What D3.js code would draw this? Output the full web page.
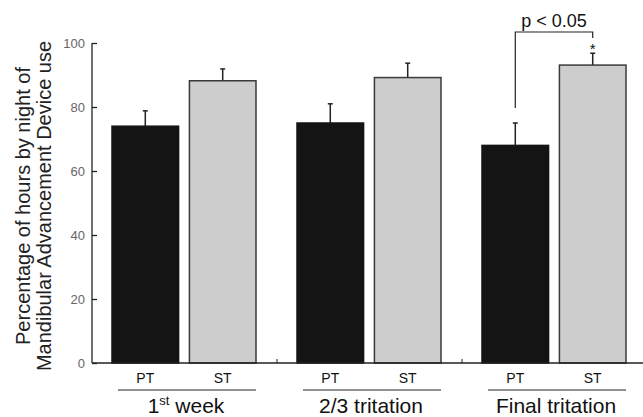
<!DOCTYPE html>
<html>
<head>
<meta charset="utf-8">
<script src="https://cdn.jsdelivr.net/npm/d3@7"></script>
<style>
  body { margin: 0; background: #fff; }
  text { font-family: "Liberation Sans", Arial, sans-serif; }
</style>
</head>
<body>
<script>
// data
var groups = ['1st week', '2/3 tritation', 'Final tritation'];
var conds = ['PT', 'ST'];
var ptMean = [74, 75, 68];
var ptErr = [4.8, 6, 7];
var stMean = [88.2, 89.2, 93.1];
var stErr = [3.7, 4.5, 3.7];
var yTicks = [0, 20, 40, 60, 80, 100];

var width = 643, height = 417;

var svg = d3.select('body').append('svg')
  .attr('width', width)
  .attr('height', height);

var xScale = d3.scaleBand().domain(groups).range([92, 647]).padding(0);
var inner = d3.scaleBand().domain(conds).range([20, 164]).paddingInner(0.14);
var yScale = d3.scaleLinear().domain([0, 100]).range([363, 43]);

var rows = [];
groups.forEach(function(g, i) {
  rows.push({g: g, c: 'PT', v: ptMean[i], e: ptErr[i]});
  rows.push({g: g, c: 'ST', v: stMean[i], e: stErr[i]});
});

// error bars (drawn first, bar covers the lower part)
var eb = svg.append('g').attr('stroke', '#222').attr('stroke-width', 1.5);
rows.forEach(function(d) {
  var cx = xScale(d.g) + inner(d.c) + inner.bandwidth() / 2;
  eb.append('line').attr('x1', cx).attr('x2', cx)
    .attr('y1', yScale(d.v)).attr('y2', yScale(d.v + d.e));
  eb.append('line').attr('x1', cx - 2.5).attr('x2', cx + 2.5)
    .attr('y1', yScale(d.v + d.e)).attr('y2', yScale(d.v + d.e));
});

svg.selectAll('rect.bar')
  .data(rows)
  .enter()
  .append('rect')
  .attr('class', 'bar')
  .attr('x', function(d) { return xScale(d.g) + inner(d.c); })
  .attr('y', function(d) { return yScale(d.v); })
  .attr('width', inner.bandwidth())
  .attr('height', function(d) { return yScale(0) - yScale(d.v); })
  .attr('fill', function(d) { return d.c === 'PT' ? '#141414' : '#cdcdcd'; })
  .attr('stroke', function(d) { return d.c === 'PT' ? '#141414' : '#3a3a3a'; })
  .attr('stroke-width', 1.5);

// y axis
var yAxis = d3.axisLeft(yScale).tickValues(yTicks).tickSize(-5).tickPadding(7);
var gy = svg.append('g').attr('transform', 'translate(92,0)').call(yAxis);
gy.select('.domain').attr('d', 'M-0,' + yScale(100) + 'H0V' + yScale(0)).attr('stroke', '#222').attr('stroke-width', 1.3);
gy.selectAll('.tick line').attr('stroke', '#222').attr('stroke-width', 1.3);
gy.selectAll('.tick text').attr('fill', '#666').attr('font-size', 13)
  .attr('font-family', '"Liberation Sans", Arial, sans-serif');

// x axis baseline with small inward ticks between groups
svg.append('line').attr('x1', 92).attr('x2', 643)
  .attr('y1', yScale(0)).attr('y2', yScale(0))
  .attr('stroke', '#222').attr('stroke-width', 1.3);
groups.slice(1).forEach(function(g) {
  var x = xScale(g);
  svg.append('line').attr('x1', x).attr('x2', x)
    .attr('y1', yScale(0)).attr('y2', yScale(0) - 4)
    .attr('stroke', '#222').attr('stroke-width', 1);
});

// condition labels
rows.forEach(function(d) {
  svg.append('text')
    .attr('x', xScale(d.g) + inner(d.c) + inner.bandwidth() / 2)
    .attr('y', 383)
    .attr('text-anchor', 'middle')
    .attr('font-size', 14)
    .attr('fill', '#111')
    .text(d.c);
});

// group underline + labels
groups.forEach(function(g, i) {
  svg.append('line')
    .attr('x1', xScale(g) + 26).attr('x2', xScale(g) + 164)
    .attr('y1', 390).attr('y2', 390)
    .attr('stroke', '#222').attr('stroke-width', 1);
  var t = svg.append('text')
    .attr('x', xScale(g) + 94)
    .attr('y', 413)
    .attr('text-anchor', 'middle')
    .attr('font-size', 21)
    .attr('fill', '#111');
  if (i === 0) {
    t.append('tspan').text('1');
    t.append('tspan').attr('font-size', 13).attr('dy', -8).text('st');
    t.append('tspan').attr('dy', 8).text(' week');
  } else {
    t.text(g);
  }
});

// y axis title
var yt = svg.append('text')
  .attr('transform', 'translate(30,' + (yScale(50) + 3) + ') rotate(-90)')
  .attr('text-anchor', 'middle')
  .attr('font-size', 20)
  .attr('fill', '#222');
yt.append('tspan').attr('x', 0).attr('dy', 0).text('Percentage of hours by night of');
yt.append('tspan').attr('x', 0).attr('dy', 21).text('Mandibular Advancement Device use');

// significance bracket
var xPT = xScale(groups[2]) + inner('PT') + inner.bandwidth() / 2;
var xST = xScale(groups[2]) + inner('ST') + inner.bandwidth() / 2;
svg.append('path')
  .attr('d', 'M' + xPT + ',108V32H' + xST + 'V38')
  .attr('fill', 'none').attr('stroke', '#222').attr('stroke-width', 1.2);
svg.append('text')
  .attr('x', (xPT + xST) / 2).attr('y', 27)
  .attr('text-anchor', 'middle').attr('font-size', 18).attr('fill', '#111')
  .text('p < 0.05');
svg.append('text')
  .attr('x', xST).attr('y', 54)
  .attr('text-anchor', 'middle').attr('font-size', 15).attr('fill', '#111')
  .text('*');
</script>
</body>
</html>
